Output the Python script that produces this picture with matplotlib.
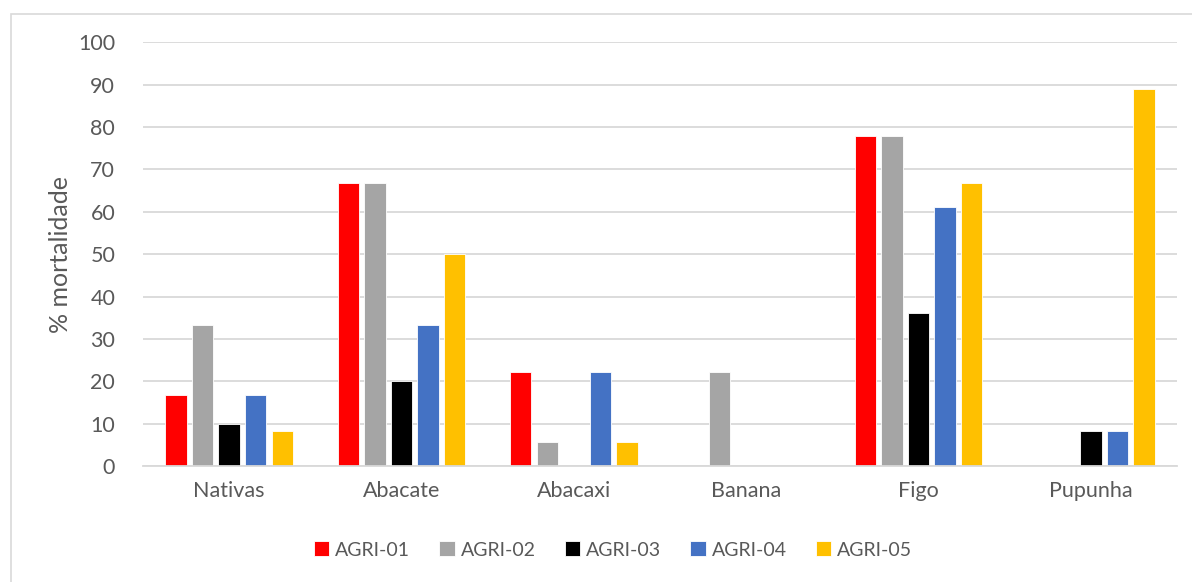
import matplotlib.pyplot as plt
import numpy as np
from matplotlib.patches import Rectangle

plt.rcParams['font.family'] = ['Lato', 'DejaVu Sans']

categorias = ['Nativas', 'Abacate', 'Abacaxi', 'Banana', 'Figo', 'Pupunha']
agri_01 = [16.7, 66.7, 22.2, 0, 77.8, 0]
agri_02 = [33.3, 66.7, 5.6, 22.2, 77.8, 0]
agri_03 = [10.0, 20.0, 0, 0, 36.0, 8.3]
agri_04 = [16.7, 33.3, 22.2, 0, 61.1, 8.3]
agri_05 = [8.3, 50.0, 5.6, 0, 66.7, 88.9]
series_names = ['AGRI-01', 'AGRI-02', 'AGRI-03', 'AGRI-04', 'AGRI-05']
cores = ['#ff0000', '#a5a5a5', '#000000', '#4472c4', '#ffc000']

series = [agri_01, agri_02, agri_03, agri_04, agri_05]
txt = '#595959'
grid = '#d9d9d9'

fig = plt.figure(figsize=(11.92, 5.82), dpi=100)
ax = fig.add_axes([143/1192, 1 - 466/582, (1177 - 143)/1192, (466 - 42.3)/582])

# outer chart border
fig.patches.append(Rectangle((11/1192, -0.1), 1.2, 1 - 14/582 + 0.1,
                             transform=fig.transFigure, fill=False,
                             edgecolor=grid, linewidth=1.2))

x = np.arange(len(categorias))
passo = 0.154   # distance between bars in a group
w = 0.124       # bar width
for i, (vals, nome, cor) in enumerate(zip(series, series_names, cores)):
    ax.bar(x + (i - 2) * passo, vals, w, color=cor, edgecolor='white',
           linewidth=0.6, label=nome, zorder=3)

ax.set_xlim(-0.5, len(categorias) - 0.5)
ax.set_ylim(0, 100)
ax.set_yticks(np.arange(0, 101, 10))
ax.set_xticks(x)
ax.set_xticklabels(categorias)
ax.tick_params(axis='both', length=0, labelsize=15.5, colors=txt)
ax.tick_params(axis='x', pad=11)
ax.tick_params(axis='y', pad=20)
ax.yaxis.grid(True, color=grid, linewidth=1.3, zorder=0)
ax.set_axisbelow(True)
for s in ['top', 'right', 'left']:
    ax.spines[s].set_visible(False)
ax.spines['bottom'].set_color(grid)
ax.spines['bottom'].set_linewidth(1.3)
ax.spines['bottom'].set_zorder(4)

ax.set_ylabel('% mortalidade', fontsize=18, color=txt)
ax.yaxis.set_label_coords(-0.069, 0.5)

leg = fig.legend(loc='center', bbox_to_anchor=(613/1192, 1 - 550/582), ncol=5,
                 frameon=False, fontsize=14, handlelength=0.8, handleheight=0.8,
                 handletextpad=0.3, columnspacing=1.5)
for t in leg.get_texts():
    t.set_color(txt)

fig.savefig('out.png', dpi=100)
